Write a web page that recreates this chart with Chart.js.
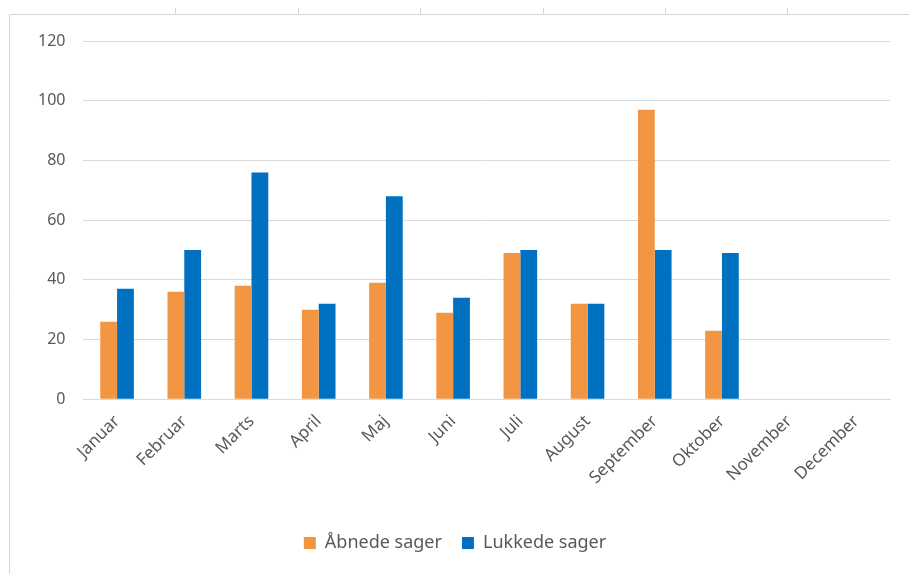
<!DOCTYPE html>
<html>
<head>
<meta charset="utf-8">
<script src="https://cdn.jsdelivr.net/npm/chart.js@4"></script>
<style>
    html, body { margin: 0; padding: 0; background: #fff; }
    #wrap { width: 909px; height: 574px; }
</style>
</head>
<body>
<div id="wrap"><canvas id="chart"></canvas></div>
<script>
const months = ['Januar', 'Februar', 'Marts', 'April', 'Maj', 'Juni', 'Juli', 'August', 'September', 'Oktober', 'November', 'December'];
const openedCases = [26, 36, 38, 30, 39, 29, 49, 32, 97, 23, null, null];
const closedCases = [37, 50, 76, 32, 68, 34, 50, 32, 50, 49, null, null];
const yTicks = [0, 20, 40, 60, 80, 100, 120];

// thin cell-border frame like the spreadsheet around the chart
const sheetFrame = {
    id: 'sheetFrame',
    beforeDraw(chart) {
        const c = chart.ctx;
        c.save();
        c.strokeStyle = '#d4d4d4';
        c.lineWidth = 1;
        c.beginPath();
        c.moveTo(9.5, 574);
        c.lineTo(9.5, 14.5);
        c.lineTo(909, 14.5);
        [175, 298, 420, 543, 665, 787].forEach(x => {
            c.moveTo(x + 0.5, 14.5);
            c.lineTo(x + 0.5, 8);
        });
        c.stroke();
        c.restore();
    }
};

new Chart(document.getElementById('chart'), {
    type: 'bar',
    data: {
        labels: months,
        datasets: [{
            label: 'Åbnede sager',
            data: openedCases,
            backgroundColor: '#f39644',
        }, {
            label: 'Lukkede sager',
            data: closedCases,
            backgroundColor: '#0070c0',
        }]
    },
    options: {
        responsive: true,
        maintainAspectRatio: false,
        animation: false,
        categoryPercentage: 0.5,
        barPercentage: 1.0,
        layout: {
            padding: { left: 20, right: 19, top: 41, bottom: 12 }
        },
        scales: {
            x: {
                grid: { display: false, drawTicks: false },
                border: { color: '#d9d9d9' },
                ticks: {
                    color: '#595959',
                    font: { family: 'Noto Sans', size: 17 },
                    minRotation: 45,
                    maxRotation: 45,
                    padding: 12,
                },
                afterFit(scale) { scale.height += 14; }
            },
            y: {
                min: 0,
                max: 120,
                afterBuildTicks(scale) { scale.ticks = yTicks.map(v => ({ value: v })); },
                grid: { color: '#d9d9d9', drawTicks: false },
                border: { display: false },
                ticks: {
                    color: '#595959',
                    font: { family: 'Noto Sans', size: 16 },
                    padding: 18,
                }
            }
        },
        plugins: {
            legend: {
                position: 'bottom',
                labels: {
                    color: '#595959',
                    font: { family: 'Noto Sans', size: 18 },
                    boxWidth: 12,
                    boxHeight: 12,
                    padding: 20,
                }
            },
            tooltip: { enabled: false }
        }
    },
    plugins: [sheetFrame]
});
</script>
</body>
</html>
